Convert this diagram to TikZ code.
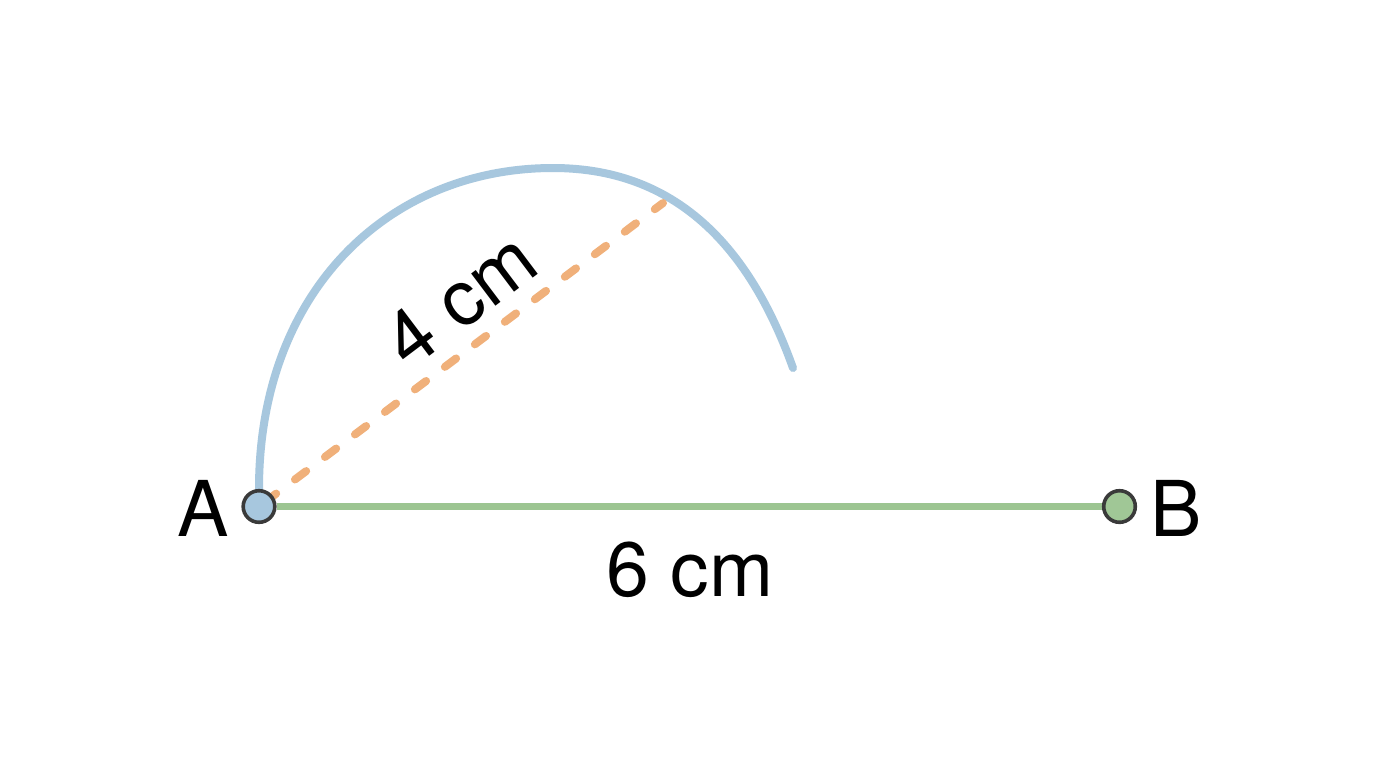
\documentclass[tikz,border=0pt]{standalone}
\usepackage{fontspec}
\setmainfont{TeX Gyre Heros}
\definecolor{arcblue}{HTML}{A7C7DE}
\definecolor{segreen}{HTML}{9CC592}
\definecolor{ptgreen}{HTML}{A0C796}
\definecolor{dashor}{HTML}{F0B07A}
\definecolor{ptstroke}{HTML}{3A3A3A}
\pgfdeclarelayer{bg}
\pgfdeclarelayer{lines}
\pgfsetlayers{bg,lines,main}
\begin{document}
\begin{tikzpicture}[x=0.5pt,y=-0.5pt,
  pt/.style={circle,draw=ptstroke,line width=1.8pt,minimum size=15.8pt,inner sep=0pt},
  lbl/.style={font=\fontsize{38.5}{40}\selectfont,inner sep=0pt,text=black},
  stroke/.style={line width=4pt,line cap=round}]
\begin{pgfonlayer}{bg}
\fill[white] (0,0) rectangle (1376,768);
\end{pgfonlayer}
\useasboundingbox (0,0) rectangle (1376,768);
% points
\node[pt,fill=arcblue] (A) at (259,506.5) {};
\node[pt,fill=ptgreen] (B) at (1119.5,506.5) {};
\coordinate (T) at (553,168);
\coordinate (E) at (793,368);
\coordinate (R) at (663,203);
\begin{pgfonlayer}{lines}
% compass arc
\draw[arcblue,stroke]
  (A.north) .. controls (259,292) and (388,168) .. (T)
            .. controls (683,168) and (753,256) .. (E);
% radius
\draw[dashor,stroke,dash pattern=on 7pt off 11.75pt,dash phase=15pt] (A.center) -- (R);
% segment AB
\draw[segreen,line width=3.9pt] (A) -- (B);
\end{pgfonlayer}
% labels
\node[lbl] (LA) at (203.5,508) {A};
\node[lbl] (LB) at (1176,508) {B};
\node[lbl] (L6) at (690,570) {6 cm};
\node[lbl,rotate=37] (L4) at (460,300) {4 cm};
\end{tikzpicture}
\end{document}
